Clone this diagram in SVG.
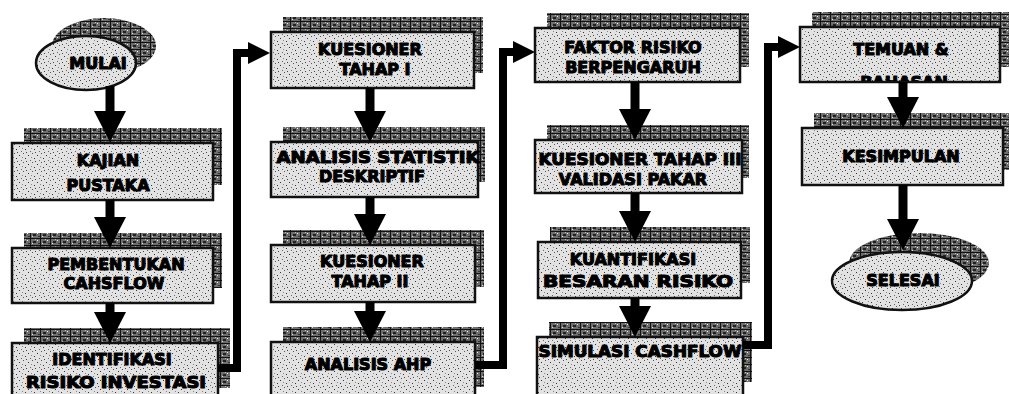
<svg xmlns="http://www.w3.org/2000/svg" width="1009" height="394" viewBox="0 0 1009 394">
<style>
.box{fill:url(#speck);stroke:#111;stroke-width:2.5}
.sh{fill:url(#hatch);stroke:none}
.t{font-family:"DejaVu Sans","Liberation Sans",sans-serif;font-weight:bold;font-size:16px;fill:#000;stroke:#000;stroke-width:1.1;stroke-linejoin:round;text-anchor:middle}
.shaft{fill:none;stroke:#000;stroke-width:9}
.link{fill:none;stroke:#000;stroke-width:8;stroke-linejoin:miter}
</style>
<defs>
<pattern id="speck" width="9" height="9" patternUnits="userSpaceOnUse">
<rect width="9" height="9" fill="#e2e2e2"/>
<rect x="1" y="2" width="1" height="1" fill="#333"/>
<rect x="5" y="0" width="1" height="1" fill="#555"/>
<rect x="7" y="5" width="1" height="1" fill="#333"/>
<rect x="3" y="7" width="1" height="1" fill="#666"/>
<rect x="4" y="4" width="1" height="1" fill="#888"/>
<rect x="8" y="8" width="1" height="1" fill="#444"/>
</pattern>
<pattern id="hatch" width="10" height="7" patternUnits="userSpaceOnUse">
<rect width="10" height="7" fill="#6e6e6e"/>
<rect x="0" y="0" width="10" height="1" fill="#111"/>
<rect x="0" y="0" width="1" height="7" fill="#111"/>
<rect x="3" y="3" width="3" height="2" fill="#222"/>
<rect x="7" y="2" width="1" height="1" fill="#eee"/>
<rect x="2" y="5" width="1" height="1" fill="#ddd"/>
<rect x="5" y="1" width="1" height="1" fill="#bbb"/>
<rect x="8" y="5" width="2" height="1" fill="#333"/>
</pattern>
<marker id="down" markerUnits="userSpaceOnUse" markerWidth="32" markerHeight="32" refX="0" refY="16" orient="auto" viewBox="0 0 31 32">
<path d="M0,0 L31,16 L0,32 z" fill="#000"/>
</marker>
<marker id="side" markerUnits="userSpaceOnUse" markerWidth="22" markerHeight="22" refX="0" refY="11" orient="auto" viewBox="0 0 22 22">
<path d="M0,0 L22,11 L0,22 z" fill="#000"/>
</marker>
<clipPath id="temuanClip"><rect x="801" y="28" width="198" height="53"/></clipPath>
</defs>

<g id="n-mulai">
<ellipse cx="104" cy="46" rx="52" ry="28" class="sh"/>
<ellipse cx="86" cy="63" rx="50" ry="27" class="box"/>
<text class="t" x="98" y="69">MULAI</text>
</g>
<g id="n-kajian">
<rect x="24" y="128" width="198" height="57" class="sh"/>
<rect x="12" y="143" width="201" height="57" class="box"/>
<text class="t" x="108" y="166">KAJIAN</text>
<text class="t" x="108" y="191">PUSTAKA</text>
</g>
<g id="n-pembentukan">
<rect x="24" y="233" width="198" height="55" class="sh"/>
<rect x="12" y="248" width="201" height="55" class="box"/>
<text class="t" x="116" y="270">PEMBENTUKAN</text>
<text class="t" x="114" y="289">CAHSFLOW</text>
</g>
<g id="n-identifikasi">
<rect x="24" y="328" width="206" height="60" class="sh"/>
<rect x="12" y="343" width="206" height="60" class="box"/>
<text class="t" x="112" y="365">IDENTIFIKASI</text>
<text class="t" x="116" y="388" textLength="180" lengthAdjust="spacingAndGlyphs">RISIKO INVESTASI</text>
</g>

<g id="n-kuesioner1">
<rect x="283" y="17" width="200" height="56" class="sh"/>
<rect x="271" y="32" width="203" height="56" class="box"/>
<text class="t" x="370" y="55">KUESIONER</text>
<text class="t" x="375" y="75">TAHAP I</text>
</g>
<g id="n-statistik">
<rect x="283" y="127" width="202" height="55" class="sh"/>
<rect x="271" y="142" width="207" height="55" class="box"/>
<text class="t" x="378" y="163" textLength="203" lengthAdjust="spacingAndGlyphs">ANALISIS STATISTIK</text>
<text class="t" x="372" y="182">DESKRIPTIF</text>
</g>
<g id="n-kuesioner2">
<rect x="283" y="230" width="201" height="57" class="sh"/>
<rect x="271" y="245" width="204" height="57" class="box"/>
<text class="t" x="372" y="267">KUESIONER</text>
<text class="t" x="370" y="287">TAHAP II</text>
</g>
<g id="n-ahp">
<rect x="283" y="327" width="201" height="60" class="sh"/>
<rect x="271" y="342" width="204" height="60" class="box"/>
<text class="t" x="368" y="370">ANALISIS AHP</text>
</g>

<g id="n-faktor">
<rect x="547" y="13" width="202" height="54" class="sh"/>
<rect x="535" y="28" width="205" height="54" class="box"/>
<text class="t" x="633" y="53">FAKTOR RISIKO</text>
<text class="t" x="633" y="73">BERPENGARUH</text>
</g>
<g id="n-kuesioner3">
<rect x="547" y="125" width="202" height="53" class="sh"/>
<rect x="535" y="140" width="207" height="53" class="box"/>
<text class="t" x="640" y="165" textLength="203" lengthAdjust="spacingAndGlyphs">KUESIONER TAHAP III</text>
<text class="t" x="633" y="185">VALIDASI PAKAR</text>
</g>
<g id="n-kuantifikasi">
<rect x="550" y="227" width="200" height="56" class="sh"/>
<rect x="538" y="242" width="203" height="56" class="box"/>
<text class="t" x="633" y="265">KUANTIFIKASI</text>
<text class="t" x="638" y="287" textLength="190" lengthAdjust="spacingAndGlyphs">BESARAN RISIKO</text>
</g>
<g id="n-simulasi">
<rect x="549" y="322" width="203" height="60" class="sh"/>
<rect x="537" y="337" width="206" height="60" class="box"/>
<text class="t" x="640" y="357" textLength="203" lengthAdjust="spacingAndGlyphs">SIMULASI CASHFLOW</text>
</g>

<g id="n-temuan">
<rect x="812" y="12" width="200" height="55" class="sh"/>
<rect x="800" y="27" width="200" height="55" class="box"/>
<text class="t" x="901" y="55">TEMUAN &amp;</text>
<text class="t" x="904" y="88" clip-path="url(#temuanClip)">BAHASAN</text>
</g>
<g id="n-kesimpulan">
<rect x="814" y="113" width="198" height="57" class="sh"/>
<rect x="802" y="128" width="201" height="57" class="box"/>
<text class="t" x="901" y="162">KESIMPULAN</text>
</g>
<g id="n-selesai">
<ellipse cx="919" cy="263" rx="70" ry="30" class="sh"/>
<ellipse cx="902" cy="281" rx="70" ry="29" class="box"/>
<text class="t" x="903" y="286">SELESAI</text>
</g>

<g id="connectors">
<path class="shaft" d="M110,86 V111" marker-end="url(#down)"/>
<path class="shaft" d="M110,200 V217" marker-end="url(#down)"/>
<path class="shaft" d="M110,303 V312" marker-end="url(#down)"/>
<path class="shaft" d="M370,88 V111" marker-end="url(#down)"/>
<path class="shaft" d="M370,197 V214" marker-end="url(#down)"/>
<path class="shaft" d="M370,302 V311" marker-end="url(#down)"/>
<path class="shaft" d="M635,82 V109" marker-end="url(#down)"/>
<path class="shaft" d="M635,193 V211" marker-end="url(#down)"/>
<path class="shaft" d="M635,298 V306" marker-end="url(#down)"/>
<path class="shaft" d="M903,82 V97" marker-end="url(#down)"/>
<path class="shaft" d="M903,185 V219" marker-end="url(#down)"/>
<path class="link" d="M218,368 H237 V53 H248" marker-end="url(#side)"/>
<path class="link" d="M475,365 H503 V52 H513" marker-end="url(#side)"/>
<path class="link" d="M743,345 H768 V47 H778" marker-end="url(#side)"/>
</g>
</svg>
